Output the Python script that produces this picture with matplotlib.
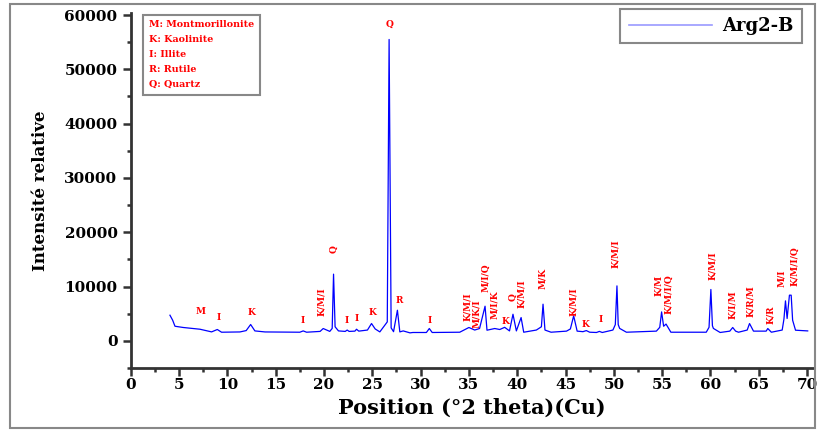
import matplotlib
matplotlib.use('Agg')
import matplotlib.pyplot as plt
from matplotlib.lines import Line2D
from matplotlib.patches import Rectangle
from matplotlib.ticker import MultipleLocator


# diffractogramme Arg2-B, points
two_theta = [4.06, 4.34, 4.58, 5.44, 7.17, 8.37, 8.96, 9.40, 11.30, 11.95,
             12.41, 12.85, 13.90, 17.50, 17.85, 18.20, 19.60, 19.92, 20.60, 20.85,
             20.99, 21.15, 21.50, 22.20, 22.40, 22.60, 23.20, 23.37, 23.60, 24.50,
             24.92, 25.30, 25.78, 26.30, 26.55, 26.74, 26.95, 27.20, 27.60, 27.85,
             28.20, 28.90, 29.20, 30.60, 30.90, 31.20, 34.05, 35.00, 35.60, 36.10,
             36.67, 36.87, 37.67, 38.19, 38.70, 39.20, 39.56, 39.91, 40.40, 40.67,
             41.98, 42.50, 42.67, 42.87, 43.50, 45.10, 45.50, 45.84, 46.20, 46.80,
             47.15, 47.50, 48.20, 48.50, 48.80, 49.90, 50.15, 50.32, 50.45, 50.60,
             51.30, 54.40, 54.75, 54.94, 55.15, 55.40, 55.90, 59.56, 59.85, 60.04,
             60.20, 60.30, 61.00, 62.00, 62.30, 62.60, 62.90, 63.80, 64.04, 64.45,
             65.76, 65.93, 66.30, 67.42, 67.60, 67.76, 67.93, 68.17, 68.35, 68.50,
             68.80, 70.06]
intensity = [4730, 3810, 2700, 2470, 2150, 1660, 2100, 1600, 1650, 1900,
             3020, 1840, 1650, 1600, 1840, 1600, 1750, 2280, 1750, 2300,
             12290, 2600, 1840, 1750, 2000, 1750, 1800, 2150, 1800, 2000,
             3200, 2200, 1660, 2900, 3500, 55500, 2400, 1700, 5650, 1660,
             1840, 1480, 1550, 1550, 2280, 1550, 1600, 2470, 2000, 2280,
             6390, 1970, 2280, 2100, 2500, 1840, 4910, 1840, 4300, 1600,
             2000, 2600, 6760, 2000, 1600, 1800, 2200, 4610, 1800, 1700,
             1900, 1600, 1550, 1750, 1550, 2000, 3000, 10130, 3000, 2300,
             1600, 1800, 2500, 5340, 2700, 3100, 1600, 1600, 2500, 9470,
             2800, 2300, 1550, 1800, 2470, 1800, 1600, 2000, 3200, 1800,
             1800, 2280, 1600, 2000, 4000, 7370, 4130, 8420, 8420, 3810,
             1970, 1840]

# identification des pics : texte, position, hauteur, rotation
peak_labels = ['M', 'I', 'K', 'I', 'K/M/I', 'Q', 'I', 'I', 'K', 'Q', 'R', 'I',
               'K/M/I', 'M/K/I', 'M/I/Q', 'M/I/K', 'K', 'Q', 'K/M/I', 'M/K',
               'K/M/I', 'K', 'I', 'K/M/I', 'K/M', 'K/M/I/Q', 'K/M/I', 'K/I/M',
               'K/R/M', 'K/R', 'M/I', 'K/M/I/Q']
label_theta = [7.24, 9.06, 12.5, 17.8, 19.75, 21.0, 22.4, 23.4, 25.0, 26.74, 27.8, 30.95,
               34.85, 35.8, 36.74, 37.67, 38.8, 39.56, 40.43, 42.6,
               45.87, 47.08, 48.6, 50.15, 54.66, 55.66, 60.18, 62.3,
               64.2, 66.17, 67.4, 68.7]
label_height = [5340, 4300, 5230, 3810, 7180, 16890, 3810, 4130, 5230, 58330, 7500, 3690,
                6260, 5040, 11680, 6580, 3500, 8000, 8730, 11490,
                7180, 3080, 3940, 16100, 10260, 8600, 13820, 6760,
                7310, 4860, 11490, 13760]
label_rot = [0, 0, 0, 0, 90, 90, 0, 0, 0, 0, 0, 0,
             90, 90, 90, 90, 0, 90, 90, 90,
             90, 0, 0, 90, 90, 90, 90, 90,
             90, 90, 90, 90]

mineral_key = ['M: Montmorillonite', 'K: Kaolinite', 'I: Illite', 'R: Rutile', 'Q: Quartz']


plt.rcParams['font.family'] = 'DejaVu Serif'
plt.rcParams['font.weight'] = 'bold'

fig = plt.figure(figsize=(8.17, 4.32), dpi=100)
ax = fig.add_axes([0.16, 0.148, 0.835, 0.821])

ax.plot(two_theta, intensity, color='#0000ff', lw=0.9)

for txt, t, h, r in zip(peak_labels, label_theta, label_height, label_rot):
    ax.text(t, h, txt, color='red', fontsize=6.5, ha='center', va='center', rotation=r)

ax.text(0.027, 0.98, '\n'.join(mineral_key), transform=ax.transAxes, color='red',
        fontsize=6.8, va='top', ha='left', linespacing=1.85,
        bbox=dict(boxstyle='square,pad=0.6', fc='white', ec='#888888', lw=1.5))

handle = Line2D([], [], color='#9a9aff', lw=1.2)
leg = ax.legend([handle], ['Arg2-B'], loc='upper right', bbox_to_anchor=(802 / 817, 1 - 9 / 432),
                bbox_transform=fig.transFigure, borderaxespad=0, fancybox=False,
                edgecolor='#888888', handlelength=4.6, handletextpad=0.6, fontsize=13,
                borderpad=0.45, framealpha=1)
leg.get_frame().set_linewidth(1.5)

ax.set_xlim(0, 70.6)
ax.set_ylim(-5000, 60300)
ax.xaxis.set_major_locator(MultipleLocator(5))
ax.xaxis.set_minor_locator(MultipleLocator(2.5))
ax.yaxis.set_major_locator(MultipleLocator(10000))
ax.yaxis.set_minor_locator(MultipleLocator(5000))
ax.set_yticks(range(0, 60001, 10000))

for side in ['top', 'right']:
    ax.spines[side].set_visible(False)
for side in ['left', 'bottom']:
    ax.spines[side].set_linewidth(2)
    ax.spines[side].set_color('#333333')
ax.tick_params(which='major', length=6, width=1.8, color='#333333', labelsize=11)
ax.tick_params(axis='x', which='major', pad=1)
ax.tick_params(which='minor', length=3, width=1.8, color='#333333')

ax.set_xlabel('Position (°2 theta)(Cu)', fontsize=15, fontweight='bold', labelpad=4)
ax.set_ylabel('Intensité relative', fontsize=12, fontweight='bold', labelpad=11)

fig.patches.append(Rectangle((10 / 817, 4 / 432), 805 / 817, 424 / 432, transform=fig.transFigure,
                             fill=False, ec='#888888', lw=1.5))

fig.savefig('out.png', dpi=100)
